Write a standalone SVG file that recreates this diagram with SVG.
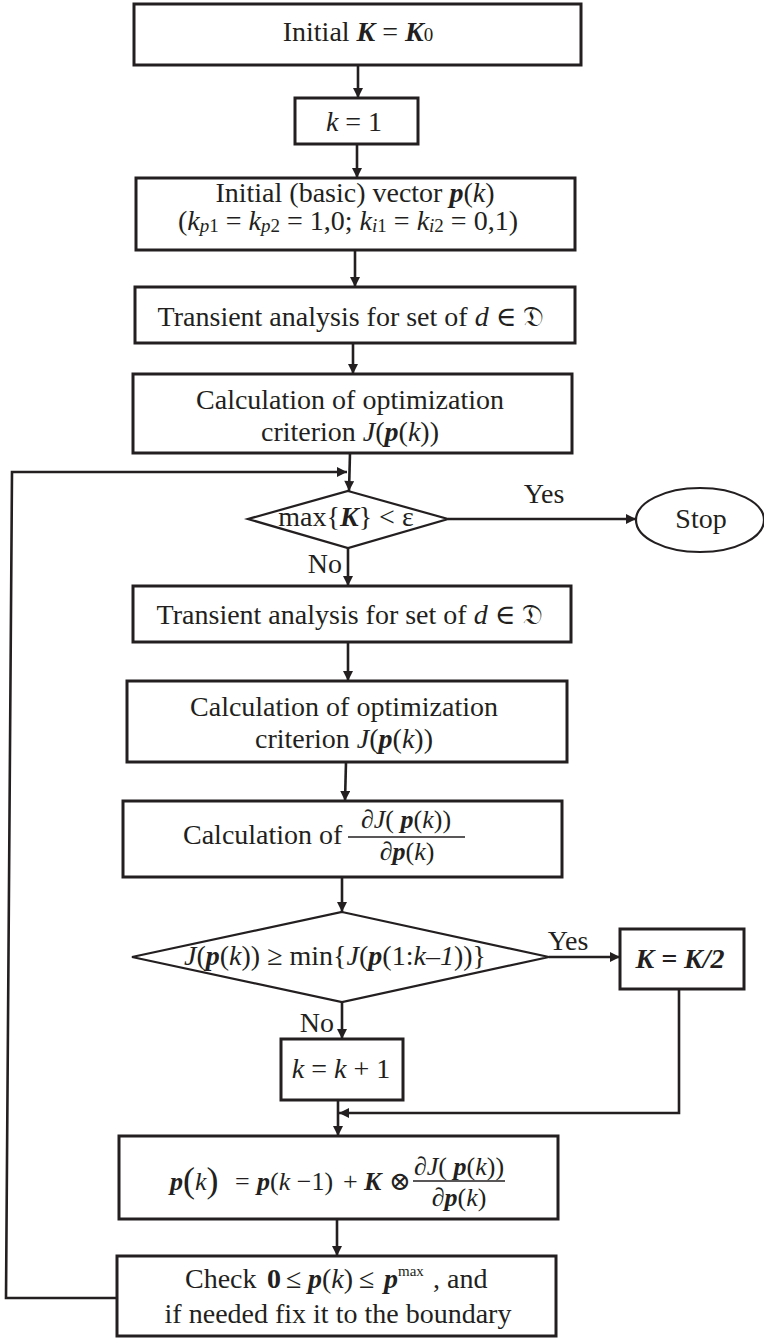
<svg xmlns="http://www.w3.org/2000/svg" width="764" height="1338" viewBox="0 0 764 1338">
<defs>
<marker id="ah" viewBox="0 0 10 10" refX="10" refY="5" markerWidth="11" markerHeight="10" markerUnits="userSpaceOnUse" orient="auto">
<path d="M0,0 L10,5 L0,10 z" fill="#231f20"/>
</marker>
<style>
.box{fill:#fff;stroke:#231f20;stroke-width:3}
.dia{fill:#fff;stroke:#231f20;stroke-width:2.2}
.ln{fill:none;stroke:#231f20;stroke-width:2.6;marker-end:url(#ah)}
.bar{stroke:#231f20;stroke-width:1.4}
text{font-family:"Liberation Serif","Times New Roman","DejaVu Serif",serif;font-size:28px;fill:#231f20}
.m{text-anchor:middle}
.e{text-anchor:end}
.i{font-style:italic}
.bi{font-style:italic;font-weight:bold}
.b{font-weight:bold}
.s{font-size:19px}
.f{font-size:26px}
.sup{font-size:15px}
.big{font-size:36px}
</style>
</defs>

<g id="connectors">
<line class="ln" x1="358" y1="65" x2="358" y2="98"/>
<line class="ln" x1="357" y1="144" x2="357" y2="178"/>
<line class="ln" x1="355" y1="250" x2="355" y2="287"/>
<line class="ln" x1="353" y1="343" x2="353" y2="374"/>
<line class="ln" x1="350" y1="453" x2="349" y2="491"/>
<path class="ln" d="M117,1298 L6,1298 L12,472 L347,472"/>
<line class="ln" x1="448" y1="519" x2="636" y2="519"/>
<line class="ln" x1="348" y1="548" x2="348" y2="586"/>
<line class="ln" x1="348" y1="642" x2="348" y2="681"/>
<line class="ln" x1="346" y1="762" x2="345" y2="801"/>
<line class="ln" x1="342" y1="877" x2="342" y2="912"/>
<line class="ln" x1="549" y1="957" x2="620" y2="957"/>
<line class="ln" x1="342" y1="1002" x2="342" y2="1039"/>
<path class="ln" d="M679,989 L679,1113 L339,1113"/>
<line class="ln" x1="338" y1="1100" x2="338" y2="1136"/>
<line class="ln" x1="337" y1="1219" x2="337" y2="1256"/>
<text x="544" y="503" class="m">Yes</text>
<text x="342" y="573" class="e">No</text>
<text x="568" y="950" class="m">Yes</text>
<text x="334" y="1032" class="e">No</text>
</g>

<g id="n1">
<rect class="box" x="134" y="4" width="447" height="61"/>
<text x="358" y="41" class="m">Initial <tspan class="bi">K</tspan> = <tspan class="bi">K</tspan><tspan class="s">0</tspan></text>
</g>

<g id="n2">
<rect class="box" x="295" y="98" width="123" height="46"/>
<text x="354" y="131" class="m"><tspan class="i">k</tspan> = 1</text>
</g>

<g id="n3">
<rect class="box" x="136" y="178" width="439" height="72"/>
<text x="355" y="202" class="m">Initial (basic) vector <tspan class="bi">p</tspan>(<tspan class="i">k</tspan>)</text>
<text x="348" y="230" class="m">(<tspan class="i">k</tspan><tspan class="s" dy="2"><tspan class="i">p</tspan>1</tspan><tspan dy="-2"> = </tspan><tspan class="i">k</tspan><tspan class="s" dy="2"><tspan class="i">p</tspan>2</tspan><tspan dy="-2"> = 1,0; </tspan><tspan class="i">k</tspan><tspan class="s" dy="2"><tspan class="i">i</tspan>1</tspan><tspan dy="-2"> = </tspan><tspan class="i">k</tspan><tspan class="s" dy="2"><tspan class="i">i</tspan>2</tspan><tspan dy="-2"> = 0,1)</tspan></text>
</g>

<g id="n4">
<rect class="box" x="135" y="287" width="440" height="56"/>
<text x="351" y="326" class="m">Transient analysis for set of <tspan class="i">d</tspan> ∈ 𝔇</text>
</g>

<g id="n5">
<rect class="box" x="133" y="374" width="439" height="79"/>
<text x="350" y="409" class="m">Calculation of optimization</text>
<text x="350" y="441" class="m">criterion <tspan class="i">J</tspan>(<tspan class="bi">p</tspan>(<tspan class="i">k</tspan>))</text>
</g>

<g id="n6">
<polygon class="dia" points="348,491 448,519 348,548 248,519"/>
<text x="346" y="526" class="m">max{<tspan class="bi">K</tspan>} &lt; ε</text>
</g>

<g id="n7">
<ellipse class="dia" cx="700" cy="520" rx="64" ry="32"/>
<text x="701" y="528" class="m">Stop</text>
</g>

<g id="n8">
<rect class="box" x="133" y="586" width="438" height="56"/>
<text x="350" y="624" class="m">Transient analysis for set of <tspan class="i">d</tspan> ∈ 𝔇</text>
</g>

<g id="n9">
<rect class="box" x="127" y="681" width="440" height="81"/>
<text x="344" y="716" class="m">Calculation of optimization</text>
<text x="344" y="748" class="m">criterion <tspan class="i">J</tspan>(<tspan class="bi">p</tspan>(<tspan class="i">k</tspan>))</text>
</g>

<g id="n10">
<rect class="box" x="123" y="801" width="439" height="76"/>
<text x="183" y="844">Calculation of</text>
<text x="406" y="828" class="m f">∂<tspan class="i">J</tspan>( <tspan class="bi">p</tspan>(<tspan class="i">k</tspan>))</text>
<line class="bar" x1="348" y1="837" x2="465" y2="837"/>
<text x="407" y="860" class="m f">∂<tspan class="bi">p</tspan>(<tspan class="i">k</tspan>)</text>
</g>

<g id="n11">
<polygon class="dia" points="342,912 549,957 342,1002 132,957"/>
<text x="335" y="965" class="m"><tspan class="i">J</tspan>(<tspan class="bi">p</tspan>(<tspan class="i">k</tspan>)) ≥ min{<tspan class="i">J</tspan>(<tspan class="bi">p</tspan>(1:<tspan class="i">k</tspan>–<tspan class="i">1</tspan>))}</text>
</g>

<g id="n12">
<rect class="box" x="620" y="929" width="124" height="60"/>
<text x="680" y="968" class="m bi">K = K/2</text>
</g>

<g id="n13">
<rect class="box" x="281" y="1039" width="122" height="61"/>
<text x="341" y="1078" class="m"><tspan class="i">k</tspan> = <tspan class="i">k</tspan> + 1</text>
</g>

<g id="n14">
<rect class="box" x="119" y="1136" width="439" height="83"/>
<text x="170" y="1190" class="f"><tspan class="bi">p</tspan><tspan class="big" dy="2">(</tspan><tspan class="i" dy="-2">k</tspan><tspan class="big" dy="2">)</tspan></text>
<text x="235" y="1190" class="f">=</text>
<text x="257" y="1190" class="f"><tspan class="bi">p</tspan>(<tspan class="i">k</tspan> −1)</text>
<text x="343" y="1190" class="f">+</text>
<text x="364" y="1190" class="f bi">K</text>
<text x="389" y="1190" class="f">⊗</text>
<text x="459" y="1175" class="m f">∂<tspan class="i">J</tspan>( <tspan class="bi">p</tspan>(<tspan class="i">k</tspan>))</text>
<line class="bar" x1="413" y1="1181" x2="505" y2="1181"/>
<text x="459" y="1206" class="m f">∂<tspan class="bi">p</tspan>(<tspan class="i">k</tspan>)</text>
</g>

<g id="n15">
<rect class="box" x="117" y="1256" width="439" height="80"/>
<text x="185" y="1288">Check</text>
<text x="267" y="1288" class="b">0</text>
<text x="286" y="1288">≤</text>
<text x="308" y="1288"><tspan class="bi">p</tspan>(<tspan class="i">k</tspan>)</text>
<text x="359" y="1288">≤</text>
<text x="384" y="1288" class="bi">p</text>
<text x="398" y="1276" class="sup">max</text>
<text x="433" y="1288">, and</text>
<text x="338" y="1323" class="m">if needed fix it to the boundary</text>
</g>
</svg>
